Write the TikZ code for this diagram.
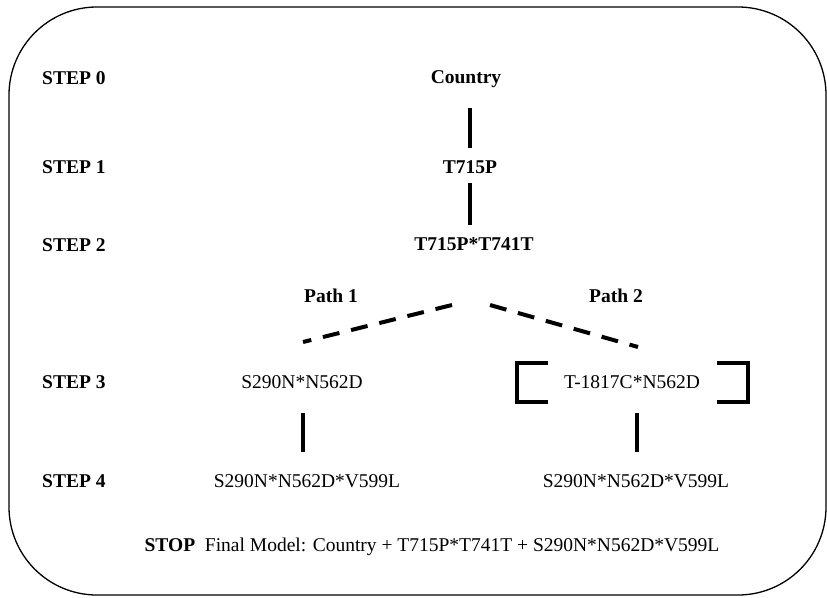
\documentclass[tikz,border=0pt]{standalone}
\usepackage{fontspec}
\setmainfont{Liberation Serif}
\usetikzlibrary{calc}
\begin{document}
\begin{tikzpicture}[x=1pt,y=-1pt,
  steplbl/.style={font=\fontsize{19.5}{22}\selectfont\bfseries, inner sep=0pt, anchor=west},
  headterm/.style={font=\fontsize{19.5}{22}\selectfont\bfseries, inner sep=0pt},
  term/.style={font=\fontsize{19.5}{22}\selectfont, inner sep=0pt},
  link/.style={line width=3.8pt},
  pathlink/.style={line width=4pt, dash pattern=on 17pt off 12pt},
  bracketline/.style={line width=3.5pt},
  frame/.style={line width=1.3pt, rounded corners=88pt}]
\useasboundingbox (0,0) rectangle (827,597);
\draw[frame] (9,7) rectangle (826,595);

% step labels
\node[steplbl] (s0) at (42,78) {STEP 0};
\node[steplbl] (s1) at (42,167) {STEP 1};
\node[steplbl] (s2) at (42,245) {STEP 2};
\node[steplbl] (s3) at (42,382) {STEP 3};
\node[steplbl] (s4) at (42,481) {STEP 4};

% model terms
\node[headterm] (country) at (466,79) {Country};
\node[headterm] (t715) at (470,167) {T715P};
\node[headterm] (t715t741) at (474,244) {T715P*T741T};
\node[headterm] (path1) at (331,296) {Path 1};
\node[headterm] (path2) at (616,296) {Path 2};
\node[term] (s290) at (302,382) {S290N*N562D};
\node[term] (t1817) at (632,382) {T-1817C*N562D};
\node[term] (finL) at (307,481) {S290N*N562D*V599L};
\node[term] (finR) at (636,481) {S290N*N562D*V599L};
\node[term] (stop) at (432,547) {\textbf{STOP}\ \ Final Model: Country + T715P*T741T + S290N*N562D*V599L};

% solid links (kept vertical under T715P)
\draw[link, shorten <=29pt, shorten >=19pt] (t715.center |- country.center) -- (t715.center);
\draw[link, shorten <=16pt, shorten >=19pt] (t715.center) -- (t715.center |- t715t741.center);
\coordinate (vl1) at ($(s290.center)+(1,31)$);
\coordinate (vl2) at ($(s290.center)+(1,70)$);
\draw[link] (vl1) -- (vl2);
\coordinate (vr1) at ($(t1817.center)+(5,31)$);
\coordinate (vr2) at ($(t1817.center)+(5,70)$);
\draw[link] (vr1) -- (vr2);

% dashed paths
\coordinate (dl1) at (452,305);
\coordinate (dl2) at (303,342);
\coordinate (dr1) at (490,305);
\coordinate (dr2) at (638,347);
\draw[pathlink] (dl1) -- (dl2);
\draw[pathlink] (dr1) -- (dr2);

% brackets around the step 3 alternative
\draw[bracketline] ($(t1817.center)+(-84,-19)$) -- ($(t1817.center)+(-115,-19)$) -- ($(t1817.center)+(-115,20)$) -- ($(t1817.center)+(-84,20)$);
\draw[bracketline] ($(t1817.center)+(85,-19)$) -- ($(t1817.center)+(116,-19)$) -- ($(t1817.center)+(116,20)$) -- ($(t1817.center)+(85,20)$);
\end{tikzpicture}
\end{document}
